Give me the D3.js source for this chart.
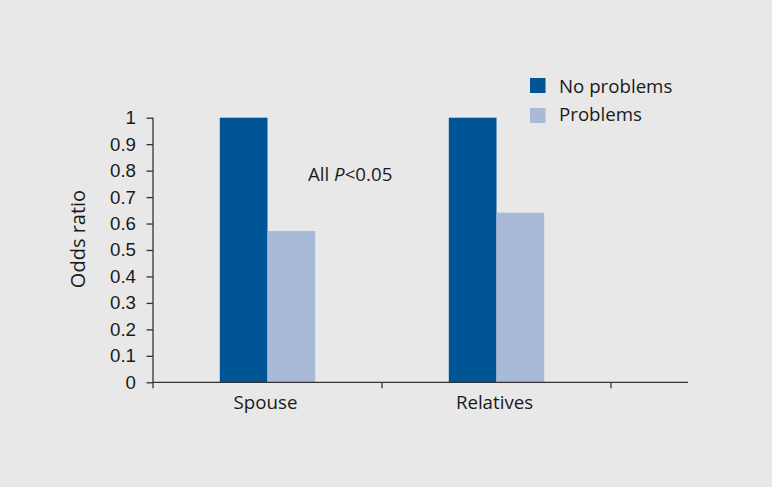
<!DOCTYPE html>
<html>
<head>
<meta charset="utf-8">
<script src="https://cdn.jsdelivr.net/npm/d3@7"></script>
<style>
  html, body { margin: 0; padding: 0; background: #e8e8e8; }
  svg { display: block; font-family: "Open Sans", "Noto Sans", sans-serif; }
</style>
</head>
<body>
<script>
const categories = ["Spouse", "Relatives"];
const seriesNames = ["No problems", "Problems"];
const noProblems = [1, 1];
const problems = [0.572, 0.641];
const yTicks = [0, 0.1, 0.2, 0.3, 0.4, 0.5, 0.6, 0.7, 0.8, 0.9, 1];
const yTickLabels = ["0", "0.1", "0.2", "0.3", "0.4", "0.5", "0.6", "0.7", "0.8", "0.9", "1"];
const colors = ["#005596", "#a9bad9"];

const W = 772, H = 487;
const FS = 18.7;
const svg = d3.select("body").append("svg").attr("width", W).attr("height", H);
svg.append("rect").attr("width", W).attr("height", H).attr("fill", "#e8e8e8");

const x0 = 153, x1 = 611, axisEnd = 688;
const y = d3.scaleLinear().domain([0, 1]).range([382.3, 117.7]);
const x = d3.scaleBand().domain(categories).range([x0, x1]).paddingInner(0).paddingOuter(0);
const barW = 47.7;
const xs = d3.scaleBand().domain(seriesNames).range([0, barW * 2]);

const data = categories.map((c, i) => ({ cat: c, vals: [noProblems[i], problems[i]] }));

// bars
const g = svg.append("g");
data.forEach(d => {
  const cx = x(d.cat) + x.bandwidth() / 2 - barW;
  d.vals.forEach((v, j) => {
    g.append("rect")
      .attr("x", cx + xs(seriesNames[j]))
      .attr("y", y(v))
      .attr("width", xs.bandwidth())
      .attr("height", y(0) - y(v))
      .attr("fill", colors[j]);
  });
});

// y axis
const yAxis = svg.append("g").attr("transform", `translate(${x0},0)`)
  .call(d3.axisLeft(y).tickValues(yTicks).tickFormat((d, i) => yTickLabels[i]).tickSize(6.5).tickPadding(10.5));
yAxis.select(".domain").attr("stroke", "#333").attr("stroke-width", 1.3).attr("d", `M0,${y(0)}V${y(1)}`);
yAxis.selectAll(".tick line").attr("stroke", "#333").attr("stroke-width", 1.3);
yAxis.selectAll(".tick text").attr("fill", "#1a1a1a").style("font-size", FS + "px");

// x axis
const xAxisG = svg.append("g").attr("transform", `translate(0,${y(0)})`);
xAxisG.append("line").attr("x1", x0).attr("x2", axisEnd).attr("y1", 0).attr("y2", 0)
  .attr("stroke", "#333").attr("stroke-width", 1.3);
const boundaries = [x0].concat(categories.map(c => x(c) + x.bandwidth()));
xAxisG.selectAll("line.tk").data(boundaries).enter().append("line").attr("class", "tk")
  .attr("x1", d => d).attr("x2", d => d).attr("y1", 0).attr("y2", 6)
  .attr("stroke", "#333").attr("stroke-width", 1.3);
xAxisG.selectAll("text.lbl").data(categories).enter().append("text").attr("class", "lbl")
  .attr("x", d => x(d) + x.bandwidth() / 2 - 2)
  .attr("y", 27)
  .attr("text-anchor", "middle")
  .attr("fill", "#1a1a1a")
  .style("font-size", FS + "px")
  .text(d => d);

// y title
svg.append("text")
  .attr("transform", "translate(85,239) rotate(-90)")
  .attr("text-anchor", "middle")
  .attr("fill", "#1a1a1a")
  .style("font-size", "20px")
  .text("Odds ratio");

// annotation
const ann = svg.append("text").attr("x", 308).attr("y", 180.5).attr("fill", "#1a1a1a").style("font-size", FS + "px");
ann.append("tspan").text("All ");
ann.append("tspan").style("font-style", "italic").text("P");
ann.append("tspan").text("<0.05");

// legend
const leg = svg.append("g");
seriesNames.forEach((s, i) => {
  leg.append("rect").attr("x", 530).attr("y", 78 + i * 30).attr("width", 15.5).attr("height", 15)
    .attr("fill", colors[i]);
  leg.append("text").attr("x", 559).attr("y", 93 + i * 27.5).attr("fill", "#1a1a1a")
    .style("font-size", FS + "px").text(s);
});
</script>
</body>
</html>
